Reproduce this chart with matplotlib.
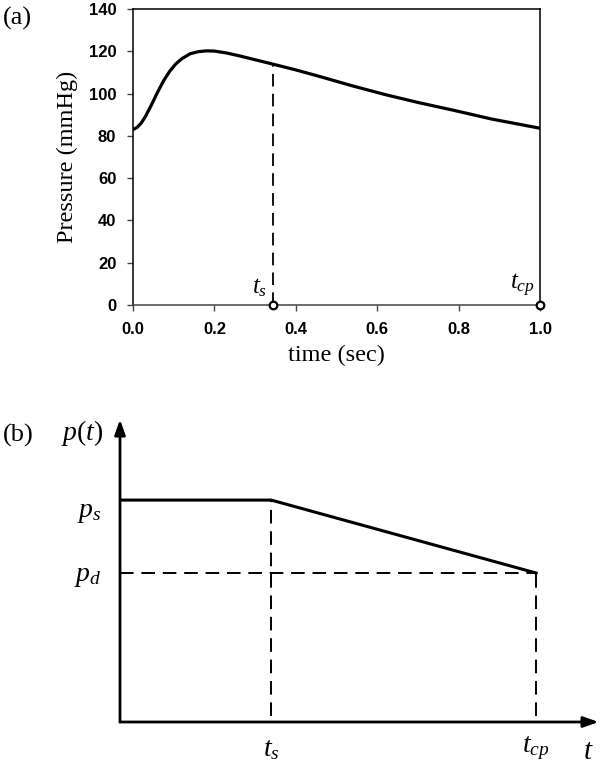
import matplotlib
matplotlib.use("Agg")
import matplotlib.pyplot as plt

plt.rcParams['mathtext.fontset'] = 'custom'
plt.rcParams['mathtext.rm'] = 'Liberation Serif'
plt.rcParams['mathtext.it'] = 'Liberation Serif:italic'

# ---- Panel (a) data ----
time_sec = [0.0, 0.01, 0.02, 0.03, 0.045, 0.06, 0.075, 0.09, 0.105, 0.12, 0.14,
            0.16, 0.18, 0.20, 0.23, 0.26, 0.30, 0.34, 0.40, 0.46, 0.54, 0.62,
            0.70, 0.79, 0.88, 1.0]
pressure = [83.0, 84.0, 86.0, 89.0, 94.5, 100.5, 106.0, 110.5, 114.0, 116.5, 118.8,
            119.8, 120.2, 120.1, 119.2, 117.9, 116.0, 114.1, 111.2, 108.0, 103.6, 99.5,
            95.8, 92.0, 88.0, 83.6]
t_s_a = 0.343
p_at_ts = 114.0
t_cp_a = 1.0
yticks_a = [0, 20, 40, 60, 80, 100, 120, 140]
ytick_labels_a = ["0", "20", "40", "60", "80", "100", "120", "140"]
xticks_a = [0.0, 0.2, 0.4, 0.6, 0.8, 1.0]
xtick_labels_a = ["0.0", "0.2", "0.4", "0.6", "0.8", "1.0"]

# ---- Panel (b) schematic data ----
t_b = [0.0, 0.315, 0.867]
p_b = [0.73, 0.73, 0.49]
ts_b = 0.315
tcp_b = 0.867
ps_b = 0.73
pd_b = 0.49

W, H = 600, 764
fig = plt.figure(figsize=(6.0, 7.64), dpi=100)

serif = 'Liberation Serif'
sans = 'Liberation Sans'

# ---------------- Panel (a) ----------------
axa = fig.add_axes([133 / W, 1 - 305 / H, (540 - 133) / W, (305 - 9) / H])
axa.plot(time_sec, pressure, color='black', lw=2.3, solid_capstyle='round')
axa.plot([t_s_a, t_s_a], [0, p_at_ts], color='black', lw=1.3, dashes=(7, 4))
axa.plot([t_s_a, t_cp_a], [0, 0], linestyle='none', marker='o', ms=5.5,
         mfc='white', mec='black', mew=1.6, clip_on=False, zorder=5)
axa.set_xlim(0, 1.0)
axa.set_ylim(0, 140)
axa.set_xticks(xticks_a)
axa.set_xticklabels(xtick_labels_a)
axa.set_yticks(yticks_a)
axa.set_yticklabels(ytick_labels_a)
for lab in axa.get_xticklabels() + axa.get_yticklabels():
    lab.set_fontfamily(sans)
    lab.set_fontweight('bold')
    lab.set_fontsize(12)
axa.tick_params(axis='x', direction='out', length=4, width=1, pad=8, color='#444444')
axa.tick_params(axis='y', direction='out', length=4, width=1, pad=8, color='#444444')
for sp in axa.spines.values():
    sp.set_linewidth(1.1)
axa.spines['bottom'].set_color('#444444')
axa.set_ylabel('Pressure (mmHg)', fontfamily=serif, fontsize=17.5, labelpad=8)
axa.set_xlabel('time (sec)', fontfamily=serif, fontsize=17.5, labelpad=6)
axa.text(t_s_a - 0.012, 3, r'$t_s$', fontsize=18, ha='right', va='bottom')
axa.text(t_cp_a - 0.012, 3, r'$t_{cp}$', fontsize=18, ha='right', va='bottom')
fig.text(3 / W, 1 - 18 / H, '(a)', fontfamily=serif, fontsize=19, ha='left', va='center')

# ---------------- Panel (b) ----------------
axb = fig.add_axes([120 / W, 1 - 722 / H, 480 / W, 304 / H])
axb.set_xlim(0, 1.0)
axb.set_ylim(0, 1.0)
axb.axis('off')
axb.plot(t_b, p_b, color='black', lw=2.2, solid_joinstyle='miter')
axb.plot([ts_b, ts_b], [0.02, ps_b], color='black', lw=1.4, dashes=(7, 4))
axb.plot([0, tcp_b], [pd_b, pd_b], color='black', lw=1.4, dashes=(7, 4))
axb.plot([tcp_b, tcp_b], [0.02, pd_b], color='black', lw=1.4, dashes=(7, 4))
arrow = dict(arrowstyle='-|>,head_length=0.9,head_width=0.32', lw=2.0, color='black',
             shrinkA=0, shrinkB=0)
axb.annotate('', xy=(0.997, 0), xytext=(0, 0), arrowprops=arrow, annotation_clip=False)
axb.annotate('', xy=(0, 0.995), xytext=(0, 0), arrowprops=arrow, annotation_clip=False)
axb.text(ts_b, -0.04, r'$t_s$', fontsize=20, ha='center', va='top')
axb.text(tcp_b, -0.04, r'$t_{cp}$', fontsize=20, ha='center', va='top')
axb.text(0.975, -0.05, r'$t$', fontsize=21, ha='center', va='top')
axb.text(-0.038, ps_b - 0.035, r'$p_s$', fontsize=20, ha='right', va='center')
axb.text(-0.038, pd_b - 0.005, r'$p_d$', fontsize=20, ha='right', va='center')
axb.text(-0.035, 0.95, r'$p(t)$', fontsize=20, ha='right', va='center')
fig.text(3 / W, 1 - 435 / H, '(b)', fontfamily=serif, fontsize=19, ha='left', va='center')

fig.savefig('out.png', dpi=100)
